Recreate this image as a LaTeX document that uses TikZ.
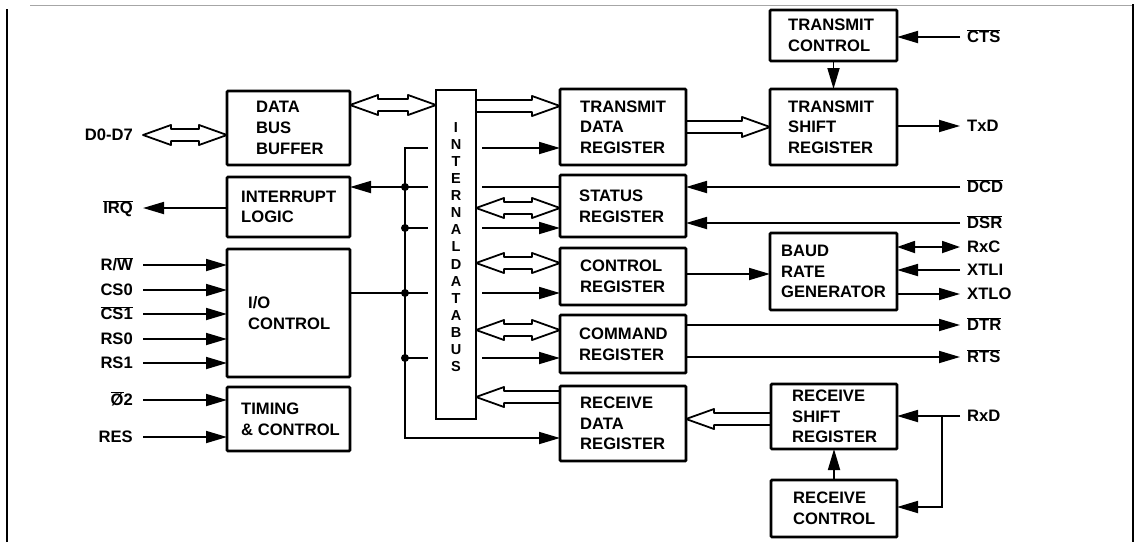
\documentclass[tikz,border=0pt]{standalone}
\usepackage{fontspec}
\setmainfont{Liberation Sans}
\usetikzlibrary{arrows.meta,calc}
\newcommand\ovl[1]{\ensuremath{\overline{\mbox{#1}}}}
\tikzset{
 blk/.style={draw, line width=2.8pt, rounded corners=1pt, inner sep=0pt, outer sep=0pt},
 txt/.style={align=left, inner sep=0pt, font=\fontsize{16.6}{20.7}\selectfont\bfseries},
 lbl/.style={inner sep=0pt, font=\fontsize{16.6}{20}\selectfont\bfseries},
 ln/.style={line width=1.8pt},
 arr/.style={ln, -{Triangle[length=21pt,width=12pt]}},
 darr/.style={ln, {Triangle[length=18pt,width=12pt]}-{Triangle[length=18pt,width=12pt]}},
 hb/.style={line width=1.8pt, line join=round},
}
\newcommand\blk[7]{%
  \pgfmathsetmacro\bw{#4-#2}\pgfmathsetmacro\bh{#5-#3}%
  \node[blk, minimum width=\bw pt, minimum height=\bh pt] (#1) at ({(#2+#4)/2},{(#3+#5)/2}) {};
  \node[txt, anchor=west] (#1-t) at ([xshift=#6pt]#1.west) {#7};}
\newcommand\sbus[3]{%
  \draw[hb] let \p1=(#1), \p2=(#2), \n1={ifthenelse(\x2>\x1,1,-1)} in
   (\x1,{-#3pt+6pt}) -- ({\x2-(\n1)*28pt},{-#3pt+6pt}) -- ({\x2-(\n1)*28pt},{-#3pt+10pt})
   -- (\x2,{-#3pt}) -- ({\x2-(\n1)*28pt},{-#3pt-10pt}) -- ({\x2-(\n1)*28pt},{-#3pt-6pt}) -- (\x1,{-#3pt-6pt});}
\newcommand\dbus[3]{%
  \draw[hb] let \p1=(#1), \p2=(#2), \n1={ifthenelse(\x2>\x1,1,-1)} in
   (\x1,{-#3pt}) -- ({\x1+(\n1)*28pt},{-#3pt+10pt}) -- ({\x1+(\n1)*28pt},{-#3pt+6pt})
   -- ({\x2-(\n1)*28pt},{-#3pt+6pt}) -- ({\x2-(\n1)*28pt},{-#3pt+10pt}) -- (\x2,{-#3pt})
   -- ({\x2-(\n1)*28pt},{-#3pt-10pt}) -- ({\x2-(\n1)*28pt},{-#3pt-6pt})
   -- ({\x1+(\n1)*28pt},{-#3pt-6pt}) -- ({\x1+(\n1)*28pt},{-#3pt-10pt}) -- cycle;}
\begin{document}
\begin{tikzpicture}[x=1pt,y=-1pt]
\useasboundingbox (0,0) rectangle (1137,542);
% frame
\draw[line width=1.2pt] (7,542) -- (7,9);
\draw[gray!70, line width=1pt] (30,5) -- (1133,5);
\draw[line width=1.2pt] (1133,4) -- (1133,542);
% blocks
\blk{dbb}{227}{91}{350}{165}{29}{DATA\\BUS\\BUFFER}
\blk{il}{227}{177}{350}{237}{14}{INTERRUPT\\LOGIC}
\blk{io}{227}{249}{350}{377}{21}{I/O\\CONTROL}
\blk{tim}{227}{387}{350}{451}{14}{TIMING\\\& CONTROL}
\blk{tdr}{560}{89}{686}{165}{20}{TRANSMIT\\DATA\\REGISTER}
\blk{status}{560}{175}{686}{237}{19}{STATUS\\REGISTER}
\blk{ctrl}{560}{248}{686}{305}{20}{CONTROL\\REGISTER}
\blk{cmd}{560}{315}{686}{373}{19}{COMMAND\\REGISTER}
\blk{rdr}{560}{386}{686}{461}{20}{RECEIVE\\DATA\\REGISTER}
\blk{tc}{770}{10}{897}{61}{18}{TRANSMIT\\CONTROL}
\blk{tsr}{770}{89}{897}{165}{18}{TRANSMIT\\SHIFT\\REGISTER}
\blk{brg}{770}{233}{897}{310}{11}{BAUD\\RATE\\GENERATOR}
\blk{rsr}{771}{384}{897}{449}{21}{RECEIVE\\SHIFT\\REGISTER}
\blk{rc}{771}{480}{897}{537}{22}{RECEIVE\\CONTROL}
% internal bus
\node[draw, line width=2.2pt, minimum width=40pt, minimum height=329pt, inner sep=0pt, outer sep=0pt] (bus) at (456,254.5) {};
\node[font=\fontsize{14.5}{17.1}\selectfont\bfseries, align=center, inner sep=0pt] (bus-t) at (456,247)
 {I\\N\\T\\E\\R\\N\\A\\L\\D\\A\\T\\A\\B\\U\\S};
% left labels
\node[lbl, anchor=base east] (l-d07) at (133,140.9) {D0-D7};
\node[lbl, anchor=base east] (l-irq) at (133,213.9) {\ovl{IRQ}};
\node[lbl, anchor=base east] (l-rw) at (133,270.9) {R/\ovl{W}};
\node[lbl, anchor=base east] (l-cs0) at (133,295.9) {CS0};
\node[lbl, anchor=base east] (l-cs1) at (133,319.9) {\ovl{CS1}};
\node[lbl, anchor=base east] (l-rs0) at (133,344.9) {RS0};
\node[lbl, anchor=base east] (l-rs1) at (133,368.9) {RS1};
\node[lbl, anchor=base east] (l-phi) at (133,405.9) {\ovl{Ø}2};
\node[lbl, anchor=base east] (l-res) at (133,442.9) {RES};
% right labels
\node[lbl, anchor=base west] (l-cts) at (967,42.9) {\ovl{CTS}};
\node[lbl, anchor=base west] (l-txd) at (967,131.9) {TxD};
\node[lbl, anchor=base west] (l-dcd) at (967,192.9) {\ovl{DCD}};
\node[lbl, anchor=base west] (l-dsr) at (967,228.9) {\ovl{DSR}};
\node[lbl, anchor=base west] (l-rxc) at (967,252.9) {RxC};
\node[lbl, anchor=base west] (l-xtli) at (967,275.9) {XTLI};
\node[lbl, anchor=base west] (l-xtlo) at (967,299.9) {XTLO};
\node[lbl, anchor=base west] (l-dtr) at (967,330.9) {\ovl{DTR}};
\node[lbl, anchor=base west] (l-rts) at (967,362.9) {\ovl{RTS}};
\node[lbl, anchor=base west] (l-rxd) at (967,421.9) {RxD};
% line end coordinates
\coordinate (d07) at (143,135);
\coordinate (irq) at (143,208);
\coordinate (rw) at (143,265);
\coordinate (cs0) at (143,290);
\coordinate (cs1) at (143,314);
\coordinate (rs0) at (143,339);
\coordinate (rs1) at (143,363);
\coordinate (phi) at (143,400);
\coordinate (res) at (143,437);
\coordinate (cts) at (960,37);
\coordinate (txd) at (960,126);
\coordinate (dcd) at (960,187);
\coordinate (dsr) at (960,223);
\coordinate (rxc) at (960,247);
\coordinate (xtli) at (960,270);
\coordinate (xtlo) at (960,294);
\coordinate (dtr) at (960,325);
\coordinate (rts) at (960,357);
\coordinate (rxd) at (960,416);
\coordinate (rj) at (942,416);
\coordinate (rjb) at (942,507);
\coordinate (cb) at (700,274);
\coordinate (j0) at (405,148);
\coordinate (j1) at (405,187);
\coordinate (j2) at (405,228);
\coordinate (j3) at (405,293);
\coordinate (j4) at (405,358);
\coordinate (j5) at (405,438);
% hollow bus arrows
\dbus{d07}{dbb.west}{135}
\dbus{dbb.east}{bus.west}{105}
\sbus{bus.east}{tdr.west}{106}
\sbus{tdr.east}{tsr.west}{127}
\dbus{bus.east}{status.west}{208}
\dbus{bus.east}{ctrl.west}{263}
\dbus{bus.east}{cmd.west}{330}
\sbus{rdr.west}{bus.east}{397}
\sbus{rsr.west}{rdr.east}{419}
% left signals
\draw[arr] (irq -| il.west) -- (irq);
\draw[arr] (rw) -- (rw -| io.west);
\draw[arr] (cs0) -- (cs0 -| io.west);
\draw[arr] (cs1) -- (cs1 -| io.west);
\draw[arr] (rs0) -- (rs0 -| io.west);
\draw[arr] (rs1) -- (rs1 -| io.west);
\draw[arr] (phi) -- (phi -| tim.west);
\draw[arr] (res) -- (res -| tim.west);
% internal control rail
\draw[arr] ([xshift=-8pt]j0 -| bus.west) -- (j0) -- (j5) -- (j5 -| rdr.west);
\draw[arr] ([xshift=6pt]j0 -| bus.east) -- (j0 -| tdr.west);
\draw[arr] ([xshift=-8pt]j1 -| bus.west) -- (j1 -| il.east);
\draw[ln] ([xshift=6pt]j1 -| bus.east) -- (j1 -| status.west);
\draw[ln] (j2) -- ([xshift=-8pt]j2 -| bus.west);
\draw[arr] ([xshift=6pt]j2 -| bus.east) -- (j2 -| status.west);
\draw[ln] (j3 -| io.east) -- ([xshift=-8pt]j3 -| bus.west);
\draw[arr] ([xshift=6pt]j3 -| bus.east) -- (j3 -| ctrl.west);
\draw[ln] (j4) -- ([xshift=-8pt]j4 -| bus.west);
\draw[arr] ([xshift=6pt]j4 -| bus.east) -- (j4 -| cmd.west);
\foreach \j in {j1,j2,j3,j4} \fill (\j) circle (4pt);
% right side
\draw[arr] (cts) -- (cts -| tc.east);
\draw[arr] (tc.south) -- (tsr.north);
\draw[arr] (txd -| tsr.east) -- (txd);
\draw[arr] (dcd) -- (dcd -| status.east);
\draw[arr] (dsr) -- (dsr -| status.east);
\draw[arr] (cb -| ctrl.east) -- (cb -| brg.west);
\draw[darr] (rxc -| brg.east) -- (rxc);
\draw[arr] (xtli) -- (xtli -| brg.east);
\draw[arr] (xtlo -| brg.east) -- (xtlo);
\draw[arr] (dtr -| cmd.east) -- (dtr);
\draw[arr] (rts -| cmd.east) -- (rts);
\draw[arr] (rxd) -- (rxd -| rsr.east);
\draw[arr] (rj) -- (rjb) -- (rjb -| rc.east);
\draw[arr] (rc.north) -- (rsr.south);
\end{tikzpicture}
\end{document}
